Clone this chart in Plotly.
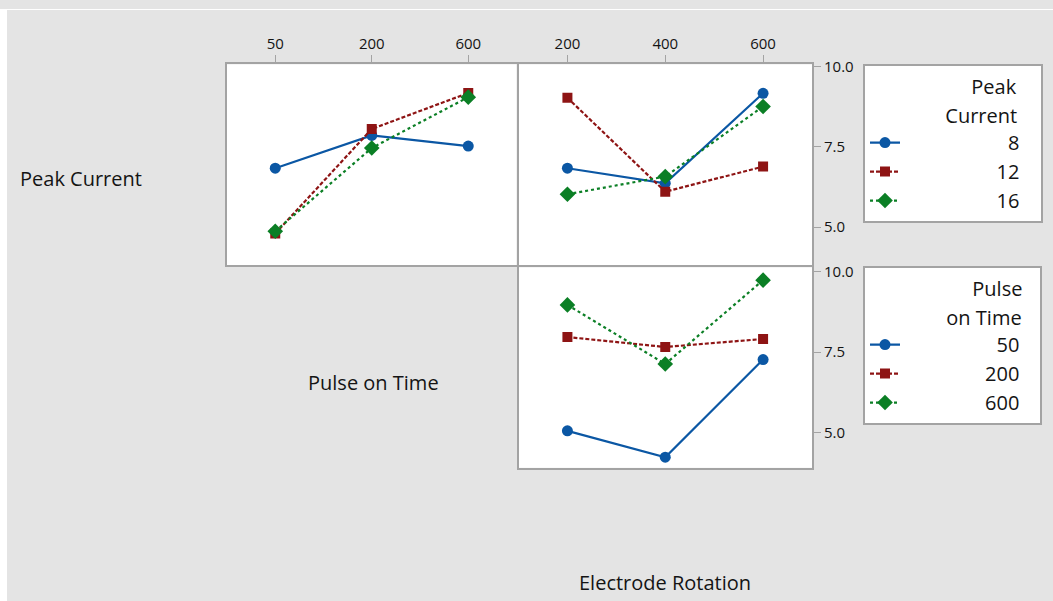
import plotly.graph_objects as go

# ---------------- data ----------------
pulse_levels = ["50", "200", "600"]          # Pulse on Time levels
rotation_levels = ["200", "400", "600"]      # Electrode Rotation levels
peak_levels = ["8", "12", "16"]              # Peak Current levels

# Panel 1: mean response vs Pulse on Time, by Peak Current
pc_vs_pulse_8 = [6.83, 7.85, 7.52]
pc_vs_pulse_12 = [4.80, 8.05, 9.17]
pc_vs_pulse_16 = [4.87, 7.46, 9.04]

# Panel 2: mean response vs Electrode Rotation, by Peak Current
pc_vs_rot_8 = [6.83, 6.36, 9.16]
pc_vs_rot_12 = [9.02, 6.10, 6.88]
pc_vs_rot_16 = [6.02, 6.57, 8.75]

# Panel 3: mean response vs Electrode Rotation, by Pulse on Time
pt_vs_rot_50 = [5.05, 4.23, 7.27]
pt_vs_rot_200 = [7.97, 7.66, 7.91]
pt_vs_rot_600 = [8.97, 7.13, 9.74]

y_tick_vals = [5.0, 7.5, 10.0]
y_tick_text = ["5.0", "7.5", "10.0"]

# ---------------- styles ----------------
W, H = 1053, 601
FONT = "Open Sans"
TXT = "#141414"
BORDER = "#a3a3a3"
GRAY = "#e4e4e4"
styles = [
    dict(color="#0b57a4", dash="solid", symbol="circle", size=11),
    dict(color="#8e1414", dash="4px,2px", symbol="square", size=10),
    dict(color="#0b7f25", dash="dot", symbol="diamond", size=12),
]

def px(x):
    return x / W

def py(y):
    # target y (pixels from top of the photographed picture) -> paper fraction
    yy = (y - 8) / 0.9876
    return 1 - yy / H

FS = "\u2007"   # figure space (digit width) for right-aligning legend labels
NB = "\u00a0"   # no-break space

def pad(labels, width, lead="", trail=""):
    return [lead + FS * (width - len(s)) + s + trail for s in labels]

fig = go.Figure()

def add_series(xvals, yvals, name, st, xa, ya, legend, show):
    fig.add_trace(go.Scatter(
        x=xvals, y=yvals, name=name, mode="lines+markers",
        line=dict(color=st["color"], width=2.2, dash=st["dash"]),
        marker=dict(color=st["color"], symbol=st["symbol"], size=st["size"]),
        xaxis=xa, yaxis=ya, legend=legend, showlegend=show,
    ))

leg1 = pad(peak_levels, 10, trail=FS + NB)
leg2 = pad(pulse_levels, 10, trail=NB + NB + NB)

for st, yv, nm in zip(styles, [pc_vs_pulse_8, pc_vs_pulse_12, pc_vs_pulse_16], leg1):
    add_series(pulse_levels, yv, nm, st, "x", "y", "legend", True)
for st, yv, nm in zip(styles, [pc_vs_rot_8, pc_vs_rot_12, pc_vs_rot_16], leg1):
    add_series(rotation_levels, yv, nm, st, "x2", "y2", "legend", False)
for st, yv, nm in zip(styles, [pt_vs_rot_50, pt_vs_rot_200, pt_vs_rot_600], leg2):
    add_series(rotation_levels, yv, nm, st, "x3", "y3", "legend2", True)

axis_common = dict(showline=True, mirror=True, linecolor=BORDER, linewidth=2,
                   showgrid=False, zeroline=False,
                   tickfont=dict(family=FONT, size=15, color=TXT))

legend_common = dict(xanchor="left", yanchor="top", bgcolor="white",
                     bordercolor=BORDER, borderwidth=2,
                     font=dict(family=FONT, size=20, color=TXT))

def span(s):
    return "<span style='font-size:20px'>" + s + "</span>"

title1 = span(NB * 5 + "Peak" + FS + NB + NB) + "<br>" + span("Current" + FS + NB + NB)
title2 = span(NB * 5 + "Pulse" + NB + NB + NB) + "<br>" + span("on Time" + NB + NB + NB)

# panel edges (picture pixels); adjacent borders overlap into a single line
X1L, X1R, X2L, X2R = 227, 516.5, 518.5, 812
TOP, MID1, MID2, BOT = 63.5, 265, 267, 468

fig.update_layout(
    width=W, height=H,
    margin=dict(l=0, r=0, t=0, b=0),
    paper_bgcolor=GRAY, plot_bgcolor="white",
    font=dict(family=FONT, color=TXT),
    xaxis=dict(domain=[px(X1L), px(X1R)], anchor="y", side="top", type="category",
               categoryorder="array", categoryarray=pulse_levels, range=[-0.5, 2.5],
               ticks="outside", ticklen=7, tickcolor=BORDER, tickwidth=1, **axis_common),
    yaxis=dict(domain=[py(MID1), py(TOP)], anchor="x", range=[3.81, 10.06],
               showticklabels=False, ticks="", **axis_common),
    xaxis2=dict(domain=[px(X2L), px(X2R)], anchor="y2", side="top", type="category",
                categoryorder="array", categoryarray=rotation_levels, range=[-0.5, 2.5],
                ticks="outside", ticklen=7, tickcolor=BORDER, tickwidth=1, **axis_common),
    yaxis2=dict(domain=[py(MID1), py(TOP)], anchor="x2", side="right", range=[3.81, 10.06],
                tickvals=y_tick_vals, ticktext=y_tick_text, ticks="outside", ticklen=7,
                tickcolor=BORDER, tickwidth=1, **axis_common),
    xaxis3=dict(domain=[px(X2L), px(X2R)], anchor="y3", type="category",
                categoryorder="array", categoryarray=rotation_levels, range=[-0.5, 2.5],
                showticklabels=False, ticks="", **axis_common),
    yaxis3=dict(domain=[py(BOT), py(MID2)], anchor="x3", side="right", range=[3.90, 10.14],
                tickvals=y_tick_vals, ticktext=y_tick_text, ticks="outside", ticklen=7,
                tickcolor=BORDER, tickwidth=1, **axis_common),
    legend=dict(x=px(863), y=py(63),
                title=dict(text=title1, side="top right",
                           font=dict(family=FONT, size=22, color=TXT)),
                **legend_common),
    legend2=dict(x=px(863), y=py(265.5),
                 title=dict(text=title2, side="top right",
                            font=dict(family=FONT, size=22, color=TXT)),
                 **legend_common),
    shapes=[
        dict(type="rect", xref="paper", yref="paper", x0=0, x1=px(7), y0=0, y1=1,
             fillcolor="white", line=dict(width=0), layer="below"),
        dict(type="rect", xref="paper", yref="paper", x0=0, x1=1, y0=1 - 1.0 / H, y1=1,
             fillcolor="white", line=dict(width=0), layer="below"),
    ],
    annotations=[
        dict(text="Peak Current", xref="paper", yref="paper", x=px(18), y=py(178),
             xanchor="left", yanchor="middle", showarrow=False,
             font=dict(family=FONT, size=20, color=TXT)),
        dict(text="Pulse on Time", xref="paper", yref="paper", x=px(373), y=py(382),
             xanchor="center", yanchor="middle", showarrow=False,
             font=dict(family=FONT, size=20, color=TXT)),
        dict(text="Electrode Rotation", xref="paper", yref="paper", x=px(665), y=py(583),
             xanchor="center", yanchor="middle", showarrow=False,
             font=dict(family=FONT, size=20, color=TXT)),
    ],
)

page_js = (
    "document.body.style.margin='0';"
    "document.documentElement.style.overflow='hidden';"
    "document.body.style.overflow='hidden';"
    "var d=document.getElementById('{plot_id}');"
    "d.style.position='fixed';d.style.left='0px';d.style.top='0px';"
)

fig.write_html("out.html", config={"displayModeBar": False}, post_script=page_js)
